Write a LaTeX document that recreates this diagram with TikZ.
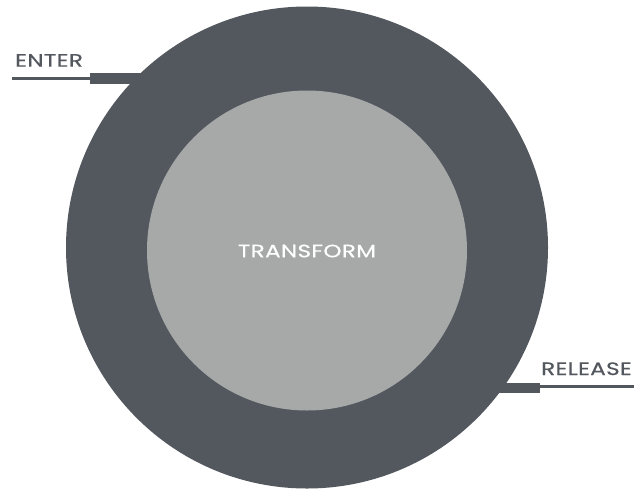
\documentclass[tikz,border=0pt]{standalone}
\usepackage{fontspec}
\usetikzlibrary{backgrounds}
\setmainfont{Poppins}[FakeStretch=1.28,FakeBold=0.5,LetterSpace=2]
\definecolor{ringgray}{RGB}{83,87,94}
\definecolor{coregray}{RGB}{166,169,168}
\begin{document}
\begin{tikzpicture}[x=1pt,y=-1pt,
  ring/.style={circle,fill=ringgray,inner sep=0pt,outer sep=0pt,minimum size=482pt},
  core/.style={circle,fill=coregray,inner sep=0pt,outer sep=0pt,minimum size=320pt},
  lead/.style={draw=ringgray,line width=3.6pt},
  stub/.style={draw=ringgray,line width=10.8pt},
  label/.style={inner sep=0pt,font=\fontsize{18}{21}\selectfont}]
\useasboundingbox (0,0) rectangle (634,490);
% the two discs
\node[ring] (outer) at (307,247.5) {};
\node[core] (inner) at (307,250.5) {};
% entry and exit joints on the ring
\coordinate (enterfree) at (12,78.5);
\coordinate (enterjoint) at (90,78.5);
\coordinate (releasejoint) at (540,386.5);
\coordinate (releasefree) at (634,386.5);
\path (releasejoint) ++(0,1.5) coordinate (releasestub);
% stubs and leads sit behind the ring
\begin{scope}[on background layer]
\draw[stub] (enterjoint) -- (enterjoint -| inner.west);
\draw[stub] (releasestub) -- (releasestub -| inner.east);
\draw[lead] (enterfree) -- (enterjoint);
\draw[lead] (releasejoint) -- (releasefree);
\end{scope}
% labels
\node[label,anchor=base west,text=ringgray] (enter) at (15,66.7) {ENTER};
\node[label,anchor=base west,text=ringgray] (release) at (541,375) {RELEASE};
\node[label,anchor=base,text=white] (transform) at (inner.center |- 0,257.3) {TRANSFORM};
\end{tikzpicture}
\end{document}
